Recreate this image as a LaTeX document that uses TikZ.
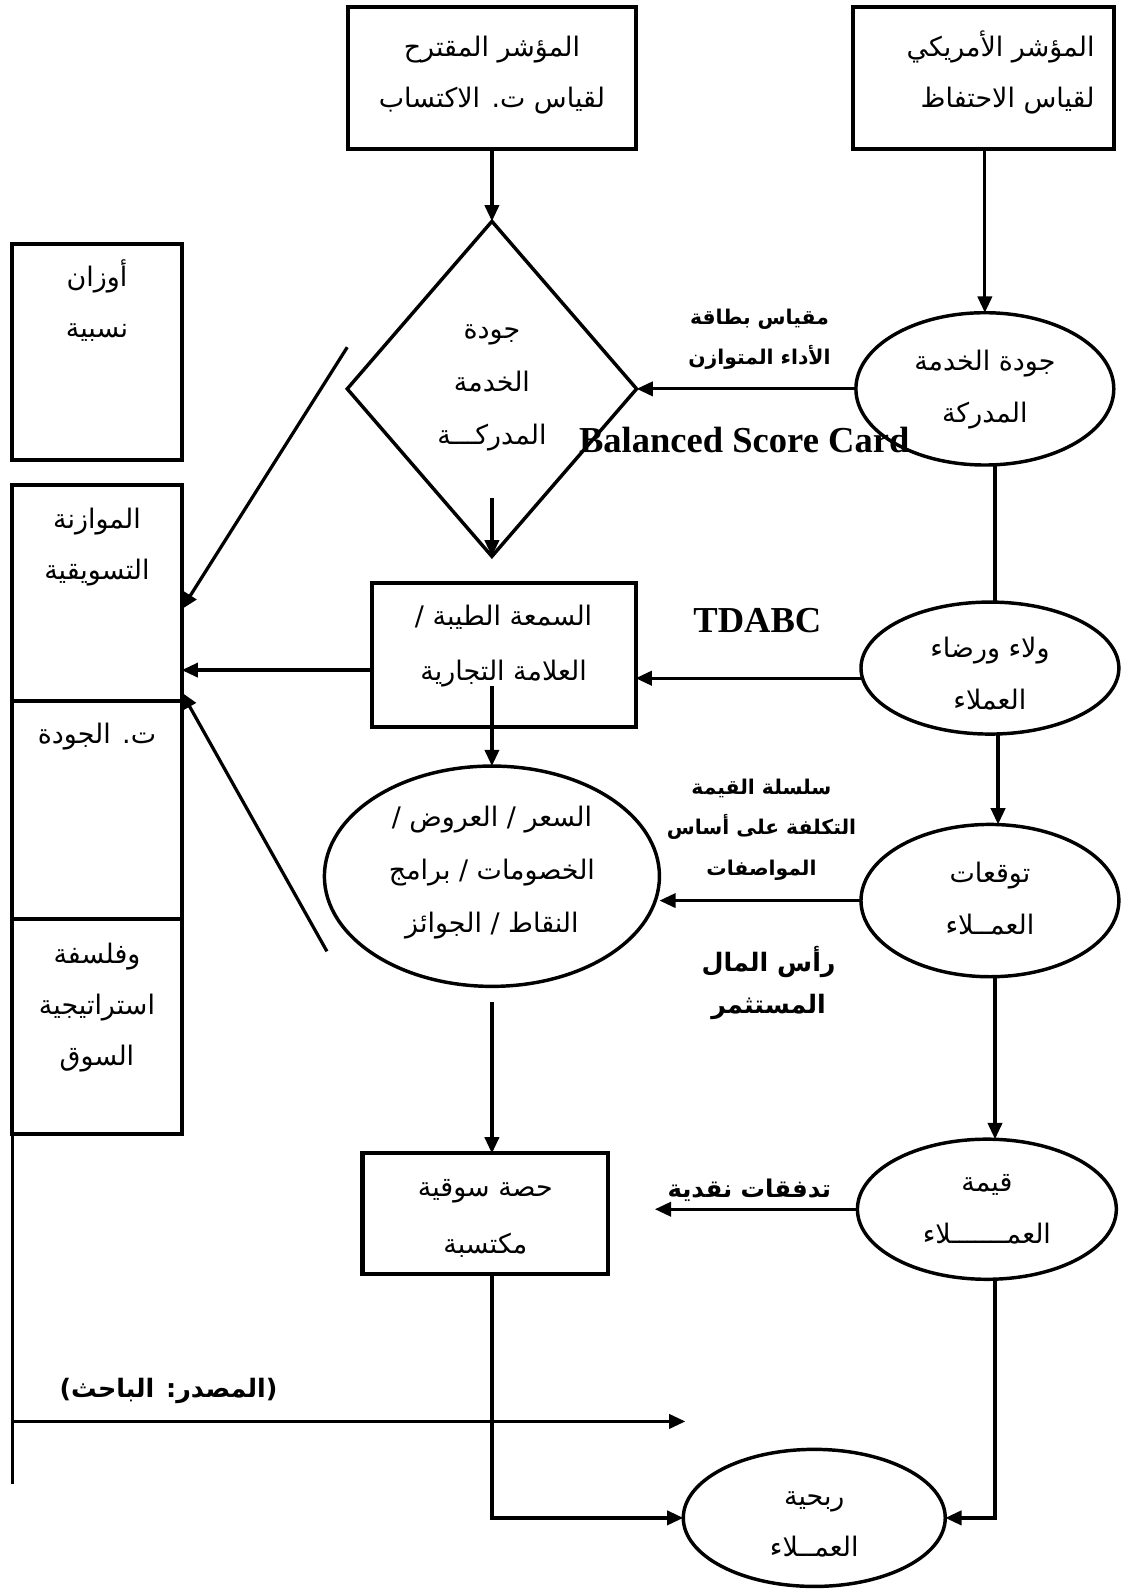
\documentclass[tikz,border=0pt]{standalone}
\usepackage{fontspec}
\setmainfont{Liberation Serif}
\newfontfamily\arabicfont[Script=Arabic]{DejaVu Sans}
\TeXXeTstate=1
\usetikzlibrary{shapes.geometric,arrows.meta}
\newcommand\ar[1]{{\arabicfont\beginR #1\endR}}
\newcommand\ztext[2][0pt]{\makebox[0pt][c]{\smash{\raisebox{#1}{\begin{tabular}{@{}c@{}}#2\end{tabular}}}}}
\tikzset{
  base/.style={draw, inner sep=0pt, outer sep=0pt},
  rbox/.style={base, rectangle, line width=4pt, font=\fontsize{26.5}{50}\selectfont},
  oval/.style={base, ellipse, line width=3.4pt, font=\fontsize{26.5}{51}\selectfont},
  lbl/.style={inner sep=0pt, align=center, font=\fontsize{20}{40}\selectfont\bfseries},
  lblb/.style={inner sep=0pt, align=center, font=\fontsize{25}{42}\selectfont\bfseries},
  eng/.style={inner sep=0pt, font=\fontsize{36}{40}\selectfont\bfseries},
  conn/.style={line width=3.2pt},
  arr/.style={conn, -{Triangle[length=16pt,width=14pt]}},
}
\begin{document}
\begin{tikzpicture}[x=1pt,y=-1pt]
\fill[white] (0,0) rectangle (1105,1568);
\useasboundingbox (0,0) rectangle (1105,1568);

% top boxes
\node[rbox, minimum width=283pt, minimum height=140pt] (pa) at (484.5,77)
  {\ztext[0pt]{\ar{المؤشر المقترح}\\\ar{لقياس ت. الاكتساب}}};
\node[rbox, minimum width=257pt, minimum height=140pt] (pb) at (968.5,77)
  {\makebox[219pt][r]{\smash{\begin{tabular}{@{}r@{}}\ar{المؤشر الأمريكي}\\\ar{لقياس الاحتفاظ}\end{tabular}}}};

% left boxes
\node[rbox, minimum width=167pt, minimum height=213pt] (w) at (95.5,346.5)
  {\ztext[43pt]{\ar{أوزان}\\\ar{نسبية}}};
\node[rbox, minimum width=167pt, minimum height=212pt] (c1) at (95.5,584)
  {\ztext[42.5pt]{\ar{الموازنة}\\\ar{التسويقية}}};
\node[rbox, minimum width=167pt, minimum height=215pt] (c2) at (95.5,797.5)
  {\ztext[69pt]{\ar{ت. الجودة}}};
\node[rbox, minimum width=167pt, minimum height=212pt] (c3) at (95.5,1011)
  {\ztext[15.5pt]{\ar{وفلسفة}\\\ar{استراتيجية}\\\ar{السوق}}};

% diamond
\node[base, diamond, line width=3.4pt, minimum width=285pt, minimum height=330pt,
      font=\fontsize{26.5}{52}\selectfont] (dm) at (484.5,383)
  {\ztext[1.5pt]{\ar{جودة}\\\ar{الخدمة}\\\ar{المدركـــة}}};

% middle boxes
\node[rbox, minimum width=260pt, minimum height=142pt, font=\fontsize{26.5}{54}\selectfont] (pc) at (496,645)
  {\ztext[6.5pt]{\ar{السمعة الطيبة /}\\\ar{العلامة التجارية}}};
\node[oval, minimum width=330pt, minimum height=217pt, font=\fontsize{26.5}{52}\selectfont] (E3) at (484.5,863)
  {\ztext[1pt]{\ar{السعر / العروض /}\\\ar{الخصومات / برامج}\\\ar{النقاط / الجوائز}}};
\node[rbox, minimum width=242pt, minimum height=119pt, font=\fontsize{26.5}{56}\selectfont] (pd) at (478,1195.5)
  {\ztext[-6pt]{\ar{حصة سوقية}\\\ar{مكتسبة}}};

% right ellipses
\node[oval, minimum width=254pt, minimum height=150pt] (E1) at (970,383)
  {\ztext[-3.5pt]{\ar{جودة الخدمة}\\\ar{المدركة}}};
\node[oval, minimum width=254pt, minimum height=130pt] (E2) at (975,658)
  {\ztext[-11pt]{\ar{ولاء ورضاء}\\\ar{العملاء}}};
\node[oval, minimum width=254pt, minimum height=150pt] (E4) at (975,887)
  {\ztext[-3.5pt]{\ar{توقعات}\\\ar{العمــلاء}}};
\node[oval, minimum width=255pt, minimum height=138pt] (E5) at (972,1191)
  {\ztext[-4.5pt]{\ar{قيمة}\\\ar{العمـــــــلاء}}};
\node[oval, minimum width=258pt, minimum height=135pt] (E6) at (802,1495)
  {\ztext[-9pt]{\ar{ربحية}\\\ar{العمــلاء}}};

% labels
\node[lbl] (l1) at (748,334) {\ar{مقياس بطاقة}\\\ar{الأداء المتوازن}};
\node[eng] (bsc) at (733,433) {Balanced Score Card};
\node[eng] (td) at (746,611) {TDABC};
\node[lbl] (l2) at (750,817) {\ar{سلسلة القيمة}\\\ar{التكلفة على أساس}\\\ar{المواصفات}};
\node[lblb] (l3) at (757,968) {\ar{رأس المال}\\\ar{المستثمر}};
\node[lblb, font=\fontsize{24}{42}\selectfont\bfseries] (l4) at (738,1172) {\ar{تدفقات نقدية}};
\node[lblb] (src) at (166,1370) {\ar{(المصدر: الباحث)}};

% connectors
\draw[arr] (pa.south) -- (dm.north);
\draw[arr] (E1.north |- pb.south) -- (E1.north);
\draw[arr] (E1.west) -- (dm.east);
\coordinate (dmin) at (484.5,490);
\draw[arr] (dmin) -- (dm.south);
\draw[conn] ([xshift=10pt]E1.south) -- ([xshift=5pt]E2.north);
\draw[arr] ([yshift=-10pt]E2.west) -- ([yshift=-10pt]E2.west -| pc.east);
\draw[arr] ([yshift=-15pt]pc.west) -- ([yshift=-15pt]pc.west -| c1.east);
\coordinate (cin) at (484.5,676);
\draw[arr] (cin) -- (E3.north);
\draw[arr] ([xshift=8pt]E2.south) -- ([xshift=8pt]E4.north);
\draw[arr] (E4.west) -- (E4.west -| E3.east);
\coordinate (e3o) at (484.5,987);
\draw[arr] (e3o) -- (e3o |- pd.north);
\draw[arr] ([xshift=5pt]E4.south) -- ([xshift=8pt]E5.north);
\coordinate (cf) at (645,1191);
\draw[arr] (E5.west) -- (cf);
\draw[arr] ([xshift=8pt]E5.south) |- (E6.east);
\draw[arr] (pd.south -| E3.south) |- (E6.west);
\coordinate (lb) at (12,1462);
\draw[conn] (c3.south west) -- (lb);
\coordinate (s0) at (12,1400);
\coordinate (s1) at (675,1400);
\draw[arr] (s0) -- (s1);
\coordinate (d1s) at (342,342);
\draw[arr] (d1s) -- ([yshift=-16pt]c1.east);
\coordinate (d2s) at (322,937);
\draw[arr] (d2s) -- ([yshift=-98pt]c1.east);
\end{tikzpicture}
\end{document}
